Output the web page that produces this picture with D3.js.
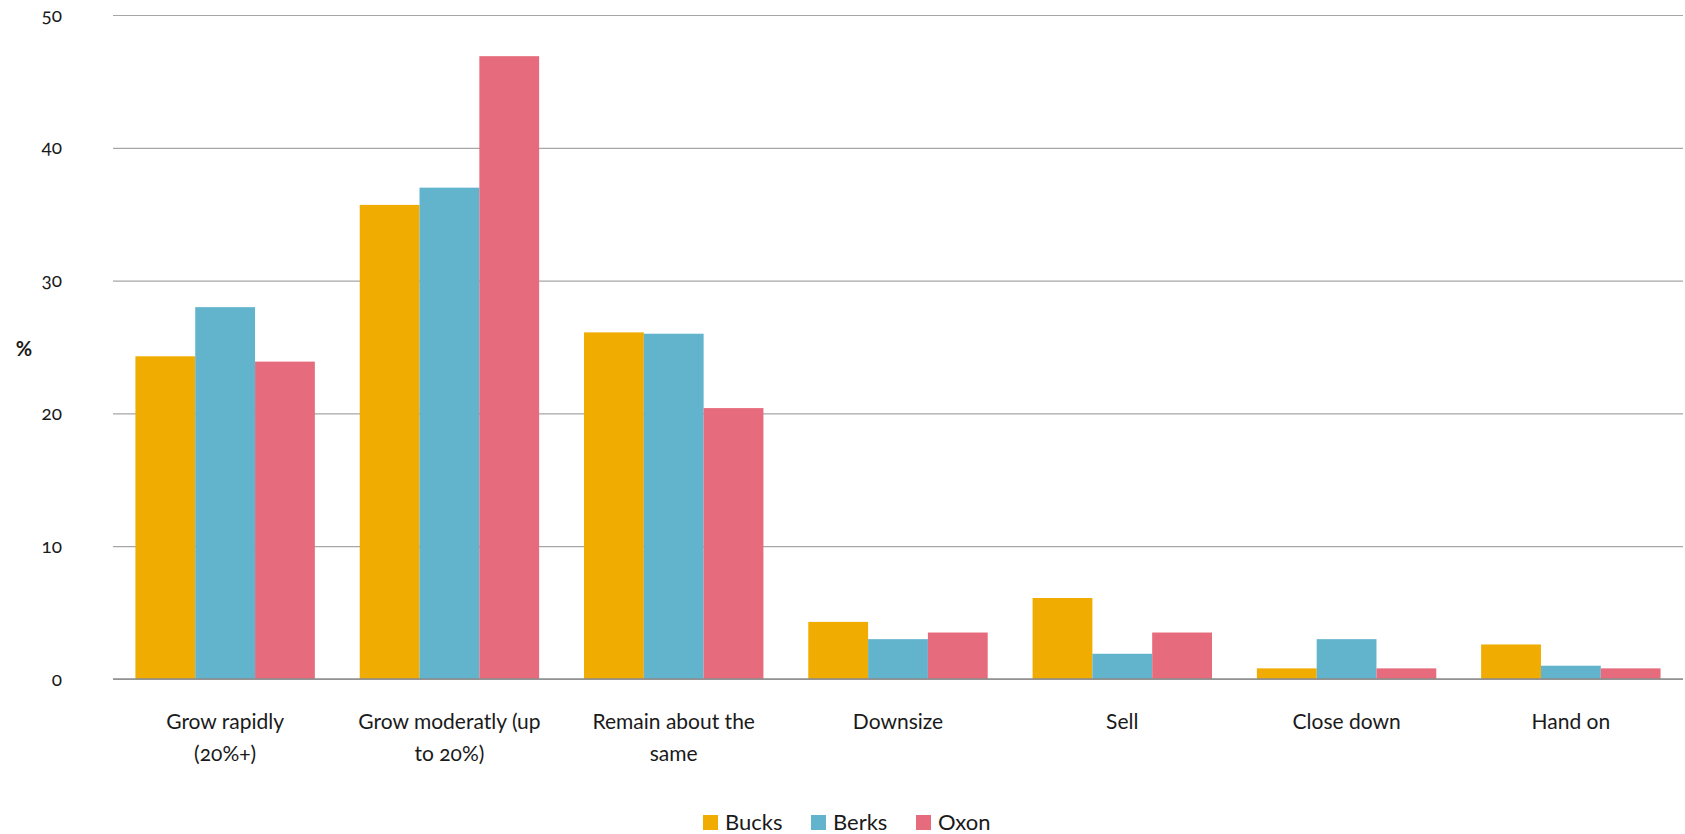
<!DOCTYPE html>
<html>
<head>
<meta charset="utf-8">
<script src="https://cdn.jsdelivr.net/npm/d3@7"></script>
<style>
  body { margin: 0; background: #fff; }
  svg text { font-family: Lato, "Open Sans", sans-serif; fill: #1a1a1a; }
  .tick text { font-variant-numeric: oldstyle-nums; font-feature-settings: "onum" 1; }
</style>
</head>
<body>
<svg id="chart" width="1685" height="834"></svg>
<script>
const categories = ["Grow rapidly\n(20%+)", "Grow moderatly (up\nto 20%)", "Remain about the\nsame", "Downsize", "Sell", "Close down", "Hand on"];
const seriesNames = ["Bucks", "Berks", "Oxon"];
const bucks = [24.3, 35.7, 26.1, 4.3, 6.1, 0.8, 2.6];
const berks = [28.0, 37.0, 26.0, 3.0, 1.9, 3.0, 1.0];
const oxon  = [23.9, 46.9, 20.4, 3.5, 3.5, 0.8, 0.8];
const yTicks = [0, 10, 20, 30, 40, 50];
const colors = ["#F0AC00", "#62B3CC", "#E66C7D"];

const seriesValues = [bucks, berks, oxon];
const svg = d3.select("#chart");
const mLeft = 113, mRight = 1683, mTop = 15, mBottom = 679;

const x0 = d3.scaleBand().domain(categories).range([mLeft, mRight]).paddingInner(0.2).paddingOuter(0.1);
const x1 = d3.scaleBand().domain(seriesNames).range([0, x0.bandwidth()]).padding(0);
const y = d3.scaleLinear().domain([0, 50]).range([mBottom, mTop]);

// gridlines
const yAxis = d3.axisLeft(y).tickValues(yTicks).tickSize(-(mRight - mLeft)).tickPadding(51).tickFormat(d3.format("d"));
const gAxis = svg.append("g").attr("transform", `translate(${mLeft},0)`).call(yAxis);
gAxis.select(".domain").remove();
gAxis.selectAll(".tick line").attr("stroke", "#A6A6A6").attr("stroke-width", 1.2);
gAxis.selectAll(".tick text").attr("font-size", 19).attr("fill", "#1a1a1a");

// bars
const groups = svg.append("g").selectAll("g").data(categories).join("g")
  .attr("transform", d => `translate(${x0(d)},0)`);
groups.selectAll("rect").data((d, i) => seriesNames.map((s, j) => ({s, v: seriesValues[j][i], j})))
  .join("rect")
  .attr("x", d => x1(d.s))
  .attr("width", x1.bandwidth())
  .attr("y", d => y(d.v))
  .attr("height", d => y(0) - y(d.v))
  .attr("fill", d => colors[d.j]);

// baseline
svg.append("line").attr("x1", mLeft).attr("x2", mRight).attr("y1", y(0)).attr("y2", y(0))
  .attr("stroke", "#8C8C8C").attr("stroke-width", 1.5);

// category labels
const xAxis = d3.axisBottom(x0).tickSize(0).tickPadding(0);
const gx = svg.append("g").attr("transform", `translate(0,${mBottom})`).call(xAxis);
gx.select(".domain").remove();
gx.selectAll(".tick text").each(function(d) {
  const t = d3.select(this);
  t.text(null).attr("font-size", 21).attr("fill", "#1a1a1a").attr("y", 0).attr("dy", null);
  d.split("\n").forEach((line, i) => {
    t.append("tspan").attr("x", 0).attr("y", 50 + i * 32).text(line);
  });
});

// y title
svg.append("text").attr("x", 24).attr("y", 356).attr("font-size", 20).attr("font-weight", "bold")
  .attr("text-anchor", "middle").text("%");

// legend
const legendX = [703, 811, 916];
const legend = svg.append("g").selectAll("g").data(seriesNames).join("g")
  .attr("transform", (d, i) => `translate(${legendX[i]},815)`);
legend.append("rect").attr("width", 15).attr("height", 15).attr("fill", (d, i) => colors[i]);
legend.append("text").attr("x", 22).attr("y", 15).attr("font-size", 22).text(d => d);
</script>
</body>
</html>
